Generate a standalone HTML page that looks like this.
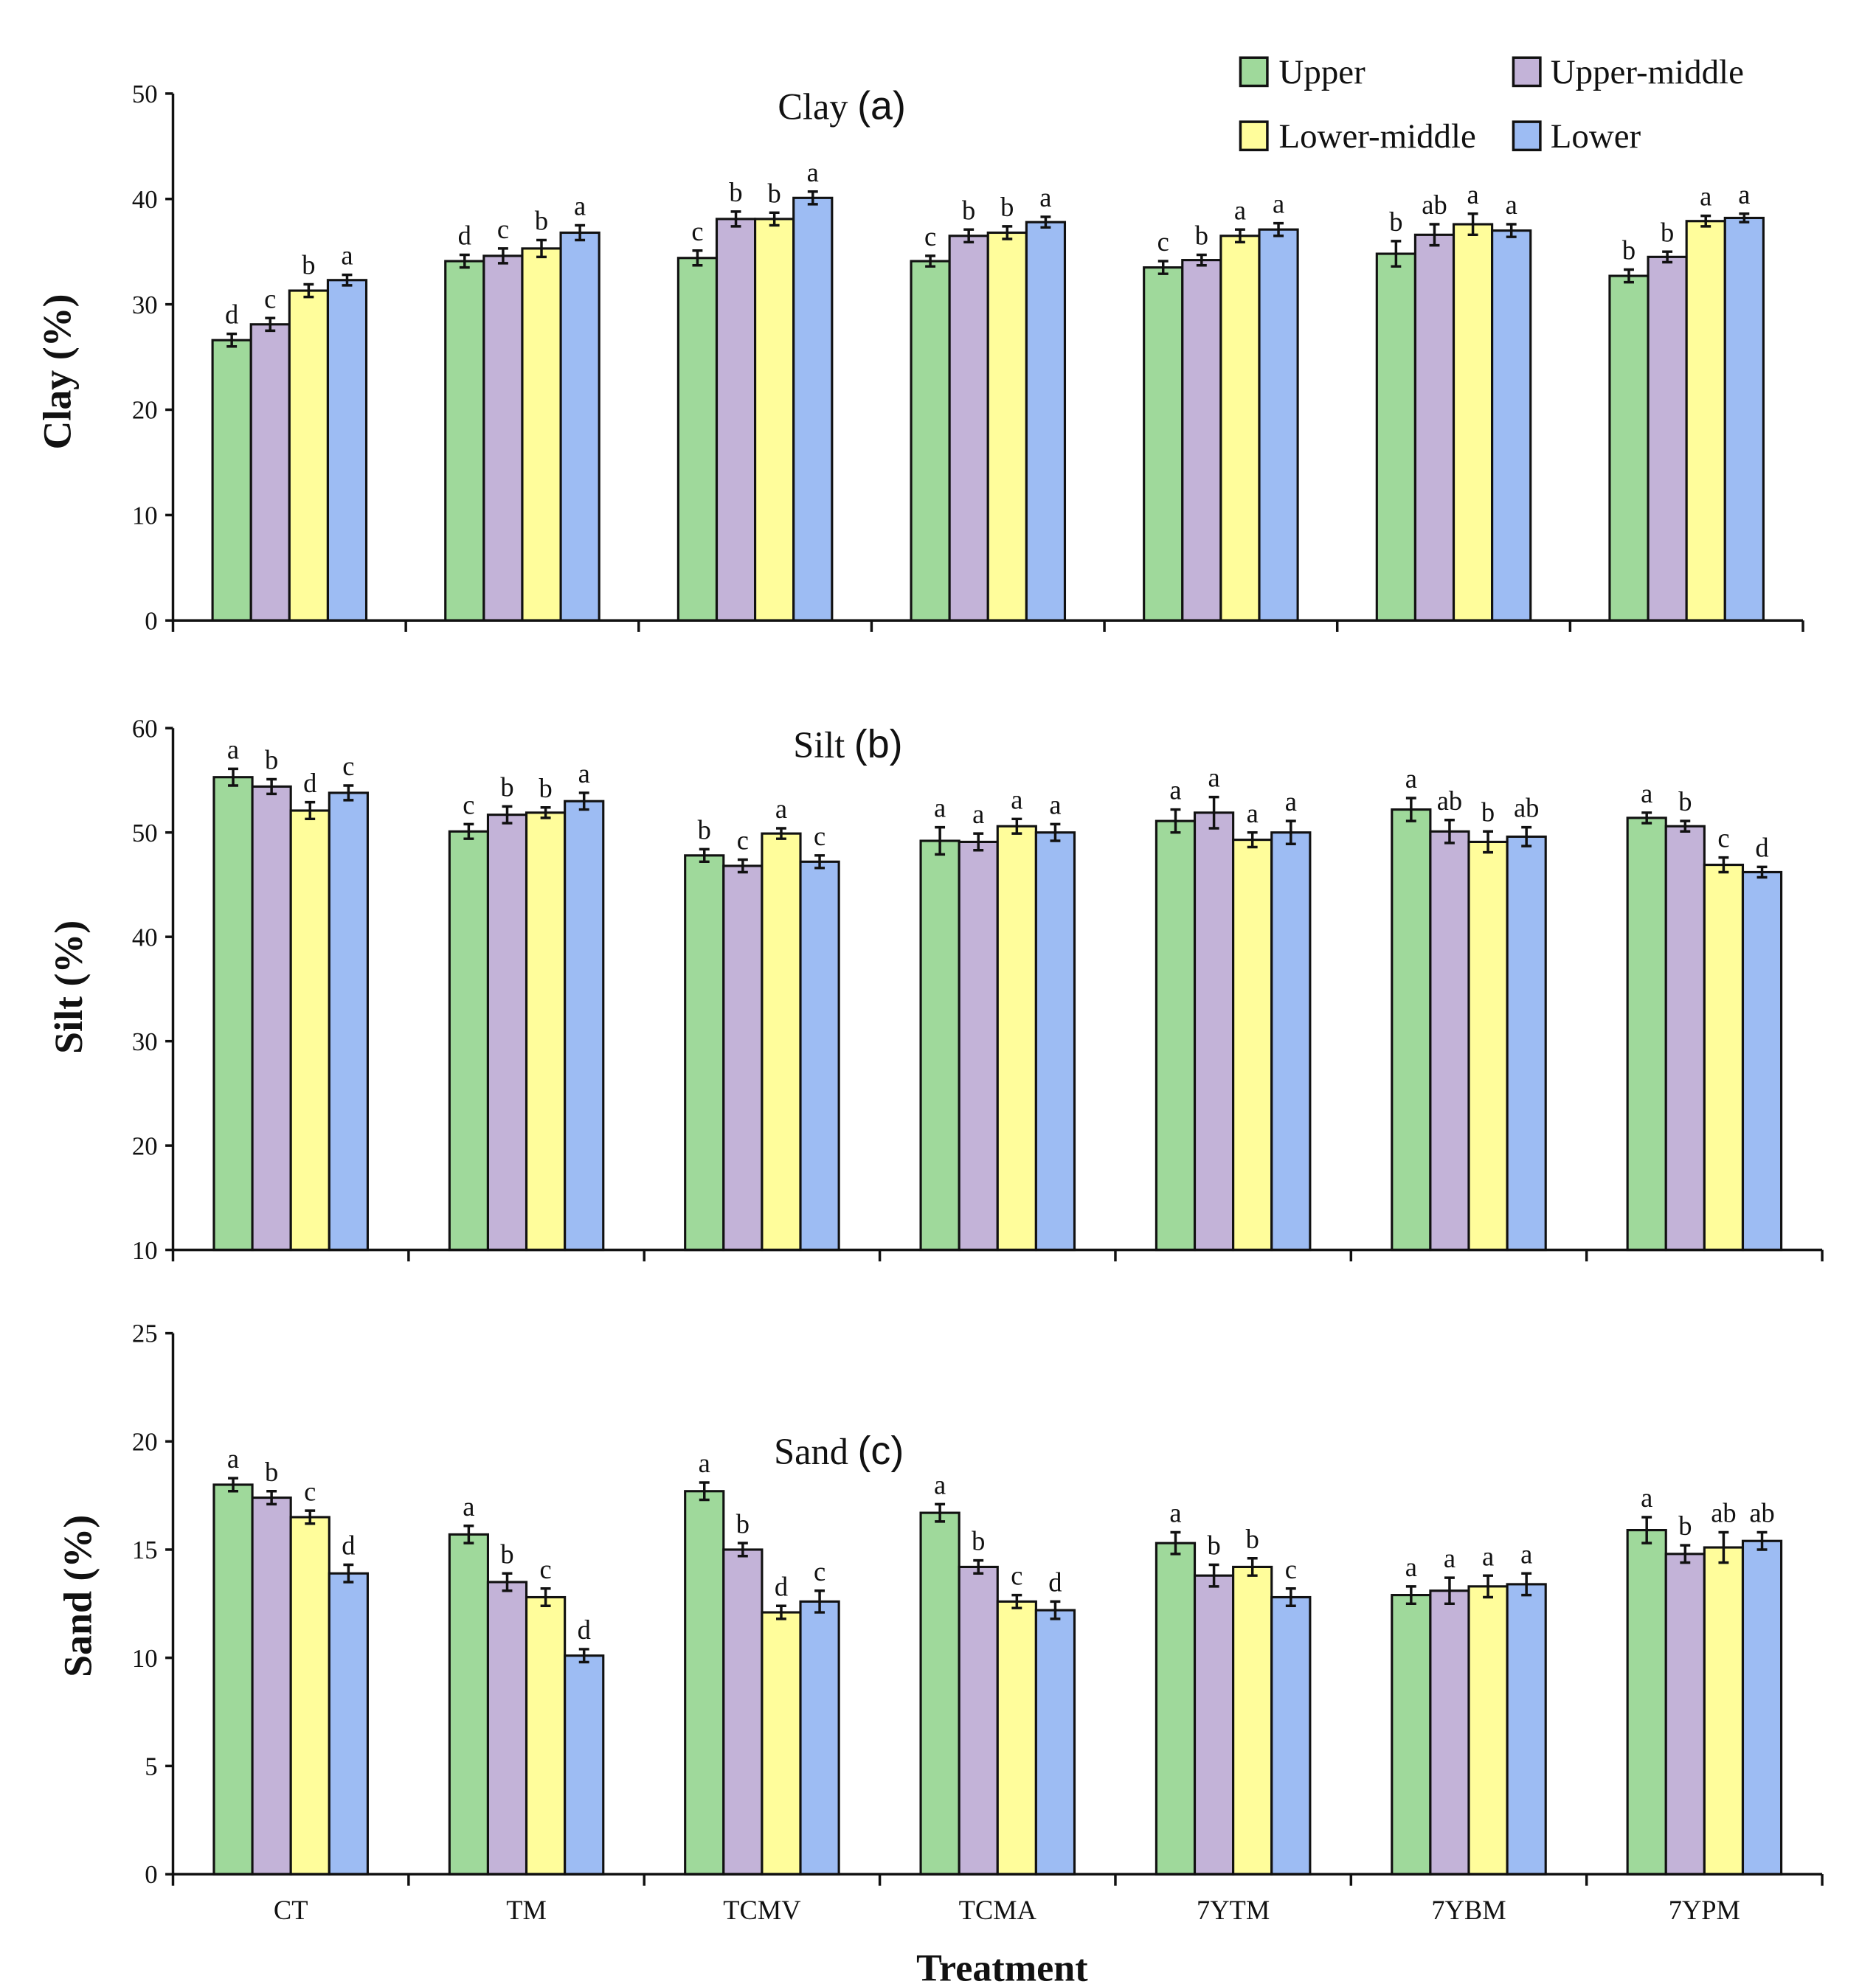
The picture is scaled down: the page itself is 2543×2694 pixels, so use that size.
<!DOCTYPE html>
<html><head><meta charset="utf-8"><style>
html,body{margin:0;padding:0;background:#fff}
svg{display:block}
text{font-family:"Liberation Serif",serif;fill:#111}
</style></head><body>
<svg id="chart" width="2543" height="2694" viewBox="0 0 1464 1550" preserveAspectRatio="none" xmlns="http://www.w3.org/2000/svg">
<g id="legend">
 <g><rect x="968" y="45" width="21" height="22" fill="#9fd99b" stroke="#111" stroke-width="2"/><text x="998" y="65" font-size="27">Upper</text></g>
 <g><rect x="1181" y="45" width="21" height="22" fill="#c3b3d8" stroke="#111" stroke-width="2"/><text x="1210" y="65" font-size="27">Upper-middle</text></g>
 <g><rect x="968" y="95" width="21" height="22" fill="#fffd9b" stroke="#111" stroke-width="2"/><text x="998" y="115" font-size="27">Lower-middle</text></g>
 <g><rect x="1181" y="95" width="21" height="22" fill="#9dbcf3" stroke="#111" stroke-width="2"/><text x="1210" y="115" font-size="27">Lower</text></g>
</g>
<text x="782" y="1545" font-size="30" font-weight="bold" text-anchor="middle">Treatment</text>
</svg>
<script>
const categories = ["CT","TM","TCMV","TCMA","7YTM","7YBM","7YPM"];
const seriesNames = ["Upper","Upper-middle","Lower-middle","Lower"];
const clayValues = [[26.6,28.1,31.3,32.3],[34.1,34.6,35.3,36.8],[34.4,38.1,38.1,40.1],[34.1,36.5,36.8,37.8],[33.5,34.2,36.5,37.1],[34.8,36.6,37.6,37.0],[32.7,34.5,37.9,38.2]];
const clayErrors = [[0.6,0.6,0.6,0.5],[0.6,0.7,0.8,0.7],[0.7,0.7,0.6,0.6],[0.5,0.6,0.6,0.5],[0.6,0.5,0.6,0.6],[1.2,1.0,1.0,0.6],[0.6,0.5,0.5,0.4]];
const clayLetters = [["d","c","b","a"],["d","c","b","a"],["c","b","b","a"],["c","b","b","a"],["c","b","a","a"],["b","ab","a","a"],["b","b","a","a"]];
const siltValues = [[55.3,54.4,52.1,53.8],[50.1,51.7,51.9,53.0],[47.8,46.8,49.9,47.2],[49.2,49.1,50.6,50.0],[51.1,51.9,49.3,50.0],[52.2,50.1,49.1,49.6],[51.4,50.6,46.9,46.2]];
const siltErrors = [[0.8,0.7,0.8,0.7],[0.7,0.8,0.5,0.8],[0.6,0.6,0.5,0.6],[1.3,0.8,0.7,0.8],[1.1,1.5,0.7,1.1],[1.1,1.1,1.0,0.9],[0.5,0.5,0.7,0.5]];
const siltLetters = [["a","b","d","c"],["c","b","b","a"],["b","c","a","c"],["a","a","a","a"],["a","a","a","a"],["a","ab","b","ab"],["a","b","c","d"]];
const sandValues = [[18.0,17.4,16.5,13.9],[15.7,13.5,12.8,10.1],[17.7,15.0,12.1,12.6],[16.7,14.2,12.6,12.2],[15.3,13.8,14.2,12.8],[12.9,13.1,13.3,13.4],[15.9,14.8,15.1,15.4]];
const sandErrors = [[0.3,0.3,0.3,0.4],[0.4,0.4,0.4,0.3],[0.4,0.3,0.3,0.5],[0.4,0.3,0.3,0.4],[0.5,0.5,0.4,0.4],[0.4,0.6,0.5,0.5],[0.6,0.4,0.7,0.4]];
const sandLetters = [["a","b","c","d"],["a","b","c","d"],["a","b","d","c"],["a","b","c","d"],["a","b","b","c"],["a","a","a","a"],["a","b","ab","ab"]];
const clayTicks = [0,10,20,30,40,50];
const siltTicks = [10,20,30,40,50,60];
const sandTicks = [0,5,10,15,20,25];

const colors = ["#9fd99b","#c3b3d8","#fffd9b","#9dbcf3"];
const NS = "http://www.w3.org/2000/svg";
const svg = document.getElementById("chart");
function mk(tag, attrs, parent){const e=document.createElementNS(NS,tag);for(const k in attrs)e.setAttribute(k,attrs[k]);(parent||svg).appendChild(e);return e;}

function panel(cfg){
  const g = mk("g",{});
  
  
  const yMin=cfg.ticks[0], yMax=cfg.ticks[cfg.ticks.length-1];
  const y = v => cfg.y0 - (v-yMin)/(yMax-yMin)*(cfg.y0-cfg.yTop);
  const step = (cfg.xEnd-cfg.x0)/categories.length;
  const bw = 30;
  // bars
  categories.forEach((c,i)=>{
    const cx = cfg.x0 + step*(i+0.5);
    cfg.values[i].forEach((v,j)=>{
      const bx = cx - 2*bw + j*bw;
      const r = mk("rect",{x:bx,y:y(v),width:bw,height:cfg.y0-y(v),fill:colors[j],stroke:"#111","stroke-width":1.8},g);
      
      
      const e = cfg.errors[i][j], mx = bx+bw/2;
      const eb = mk("path",{d:`M${mx},${y(v+e)}V${y(v-e)}M${mx-4},${y(v+e)}H${mx+4}M${mx-4},${y(v-e)}H${mx+4}`,stroke:"#111","stroke-width":2,fill:"none"},g);
      
      
      const t = mk("text",{x:mx,y:y(v+e)-8,"font-size":21,"text-anchor":"middle"},g);
      t.textContent = cfg.letters[i][j];
      
      
    });
    if(cfg.showCats){
      const t = mk("text",{x:cx,y:cfg.y0+35,"font-size":21,"text-anchor":"middle"},g);
      t.textContent = c;
      
      
    }
  });
  // axes
  const ax = mk("path",{d:`M${cfg.x0},${cfg.yTop}V${cfg.y0}M${cfg.x0},${cfg.y0}H${cfg.xEnd}`,stroke:"#111","stroke-width":2,fill:"none"},g);
  
  
  for(let i=0;i<=categories.length;i++){
    const tx = cfg.x0+step*i;
    const tk = mk("line",{x1:tx,x2:tx,y1:cfg.y0,y2:cfg.y0+9,stroke:"#111","stroke-width":2},g);
    
    
  }
  cfg.ticks.forEach(v=>{
    const tk = mk("line",{x1:cfg.x0-6,x2:cfg.x0,y1:y(v),y2:y(v),stroke:"#111","stroke-width":2},g);
    
    
    const t = mk("text",{x:cfg.x0-12,y:y(v)+7,"font-size":20,"text-anchor":"end"},g);
    t.textContent = v;
    
    
  });
  const yt = mk("text",{x:0,y:0,"font-size":31,"font-weight":"bold","text-anchor":"middle",transform:`translate(${cfg.ylx},${cfg.yly}) rotate(-90)`},g);
  yt.textContent = cfg.yLabel;
  
  
  const tt = mk("text",{x:cfg.tx,y:cfg.ty,"font-size":29},g);
  
  
  tt.appendChild(document.createTextNode(cfg.title+" "));
  const sp = mk("tspan",{"font-family":"Liberation Sans, sans-serif","font-size":31},tt);
  sp.textContent = cfg.tag;
}
panel({name:"clay",values:clayValues,errors:clayErrors,letters:clayLetters,ticks:clayTicks,x0:135,xEnd:1407,y0:484,yTop:73,ylx:55,yly:290,yLabel:"Clay (%)",title:"Clay",tag:"(a)",tx:607,ty:93,showCats:false});
panel({name:"silt",values:siltValues,errors:siltErrors,letters:siltLetters,ticks:siltTicks,x0:135,xEnd:1422,y0:975,yTop:568,ylx:64,yly:770,yLabel:"Silt (%)",title:"Silt",tag:"(b)",tx:619,ty:591,showCats:false});
panel({name:"sand",values:sandValues,errors:sandErrors,letters:sandLetters,ticks:sandTicks,x0:135,xEnd:1422,y0:1462,yTop:1040,ylx:71,yly:1245,yLabel:"Sand (%)",title:"Sand",tag:"(c)",tx:604,ty:1142,showCats:true});
</script>
</body></html>
